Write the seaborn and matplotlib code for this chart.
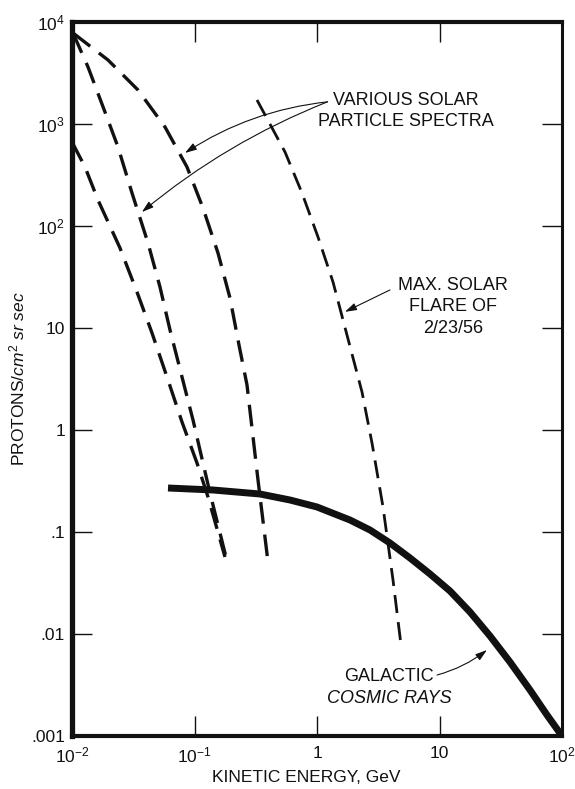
import matplotlib
matplotlib.use("Agg")
import matplotlib.pyplot as plt
import seaborn as sns
import numpy as np
import pandas as pd
from matplotlib.ticker import FixedLocator, FixedFormatter, NullLocator

# ---------------- data ----------------
spec_a_E = [0.01019, 0.01967, 0.03458, 0.05744, 0.08686, 0.1173, 0.1555, 0.1949, 0.2308, 0.2683, 0.3299, 0.3981]
spec_a_F = [7800, 4241, 2154, 934.6, 378.7, 150.1, 54.37, 19.68, 6.813, 2.762, 0.3235, 0.0508]

spec_b_E = [0.01019, 0.01351, 0.01859, 0.02374, 0.03089, 0.04173, 0.05228, 0.06310, 0.07907, 0.09723, 0.1173, 0.1338, 0.1807]
spec_b_F = [7800, 3621, 1311, 595.0, 210.6, 68.13, 25.23, 9.559, 3.308, 1.253, 0.4748, 0.2412, 0.05686]

spec_c_E = [0.0100, 0.01277, 0.01630, 0.02465, 0.03393, 0.04499, 0.05964, 0.07907, 0.1048, 0.1289, 0.1774]
spec_c_F = [666.1, 378.7, 179.8, 60.85, 22.54, 8.933, 3.308, 1.198, 0.4748, 0.2204, 0.05686]

flare_E = [0.3237, 0.5481, 0.7543, 1.019, 1.351, 2.330, 2.812, 3.458, 4.173, 4.850]
flare_F = [1719, 531.5, 210.6, 78.0, 28.25, 2.358, 0.7454, 0.1759, 0.03384, 0.0078]

gcr_E = [0.06077, 0.1416, 0.3425, 0.6020, 1.0, 1.859, 2.708, 3.944, 5.744, 8.366,
         12.18, 17.74, 25.84, 37.63, 54.81, 75.43, 100.0]
gcr_F = [0.2700, 0.2581, 0.2358, 0.2059, 0.1759, 0.1311, 0.1046, 0.0780, 0.0556, 0.03877,
         0.0264, 0.01643, 0.00956, 0.00531, 0.002825, 0.001607, 0.001]

x_ticks = [1e-2, 1e-1, 1, 10, 1e2]
x_labels = [r"10$^{-2}$", r"10$^{-1}$", "1", "10", r"10$^{2}$"]
y_ticks = [1e-3, 1e-2, 1e-1, 1, 10, 1e2, 1e3, 1e4]
y_labels = [".001", ".01", ".1", "1", "10", r"10$^{2}$", r"10$^{3}$", r"10$^{4}$"]

# ---------------- style ----------------
sns.set_style("ticks")
plt.rcParams["font.family"] = ["Liberation Sans", "DejaVu Sans"]
plt.rcParams["mathtext.fontset"] = "custom"
plt.rcParams["mathtext.rm"] = "Liberation Sans"
plt.rcParams["mathtext.it"] = "Liberation Sans:italic"
plt.rcParams["mathtext.default"] = "rm"

INK = "#111111"
fig = plt.figure(figsize=(5.75, 7.89), dpi=100)
ax = fig.add_axes([72 / 575, 1 - 736 / 789, (562 - 72) / 575, (736 - 22) / 789])
ax.set_xscale("log")
ax.set_yscale("log")

dash_lw = 2.4
for E, F, lw in [(spec_a_E, spec_a_F, dash_lw), (spec_b_E, spec_b_F, dash_lw),
                 (spec_c_E, spec_c_F, dash_lw), (flare_E, flare_F, 2.0)]:
    df = pd.DataFrame({"E": E, "F": F})
    sns.lineplot(data=df, x="E", y="F", ax=ax, sort=False, estimator=None,
                 color=INK, lw=lw)
    ln = ax.lines[-1]
    ln.set_dashes((6.5, 3.3))
    ln.set_dash_capstyle("butt")
    ln.set_dash_joinstyle("round")

df = pd.DataFrame({"E": gcr_E, "F": gcr_F})
sns.lineplot(data=df, x="E", y="F", ax=ax, sort=False, estimator=None,
             color=INK, lw=5.0)
ax.lines[-1].set_solid_capstyle("butt")
ax.lines[-1].set_solid_joinstyle("round")

ax.set_xlim(1e-2, 1e2)
ax.set_ylim(1e-3, 1e4)

ax.xaxis.set_major_locator(FixedLocator(x_ticks))
ax.xaxis.set_major_formatter(FixedFormatter(x_labels))
ax.yaxis.set_major_locator(FixedLocator(y_ticks))
ax.yaxis.set_major_formatter(FixedFormatter(y_labels))
ax.xaxis.set_minor_locator(NullLocator())
ax.yaxis.set_minor_locator(NullLocator())

ax.tick_params(axis="both", which="major", direction="in", length=14.5, width=1.0,
               color=INK, labelsize=12.5, labelcolor=INK,
               top=True, right=True)
ax.tick_params(axis="x", pad=7)
ax.tick_params(axis="y", pad=5)

for side, w in [("left", 3.8), ("bottom", 3.0), ("top", 3.0), ("right", 2.2)]:
    ax.spines[side].set_visible(True)
    ax.spines[side].set_linewidth(w)
    ax.spines[side].set_color(INK)

ax.set_xlabel("KINETIC ENERGY, GeV", fontsize=12.5, color=INK)
ax.xaxis.set_label_coords(0.478, -0.048)
ax.set_ylabel(r"PROTONS/$\mathit{cm}^{2}$ $\mathit{sr\ sec}$", fontsize=12.5, color=INK, labelpad=2.5)

# ---------------- annotations ----------------
txt_kw = dict(ha="center", va="center", fontsize=13, color=INK, linespacing=1.35)
ax.text(5.33, 1340, "VARIOUS SOLAR\nPARTICLE SPECTRA", **txt_kw)
ax.text(12.9, 16.1, "MAX. SOLAR\nFLARE OF\n2/23/56", **txt_kw)
ax.text(3.87, 0.00379, "GALACTIC", **txt_kw)
ax.text(3.87, 0.00231, "COSMIC RAYS", style="italic", **txt_kw)

arrow_kw = dict(arrowstyle="-|>,head_length=0.7,head_width=0.22", color=INK, lw=0.8,
                shrinkA=0, shrinkB=0)
ax.annotate("", xy=(0.0836, 520), xytext=(1.22, 1650),
            arrowprops=dict(connectionstyle="arc3,rad=0.12", **arrow_kw))
ax.annotate("", xy=(0.0372, 137), xytext=(1.22, 1650),
            arrowprops=dict(connectionstyle="arc3,rad=0.08", **arrow_kw))
ax.annotate("", xy=(1.69, 14.4), xytext=(3.94, 23.6),
            arrowprops=dict(connectionstyle="arc3,rad=0.0", **arrow_kw))
ax.annotate("", xy=(24.4, 0.00697), xytext=(9.55, 0.00396),
            arrowprops=dict(connectionstyle="arc3,rad=0.1", **arrow_kw))

fig.savefig("out.png", dpi=100, facecolor="white")
